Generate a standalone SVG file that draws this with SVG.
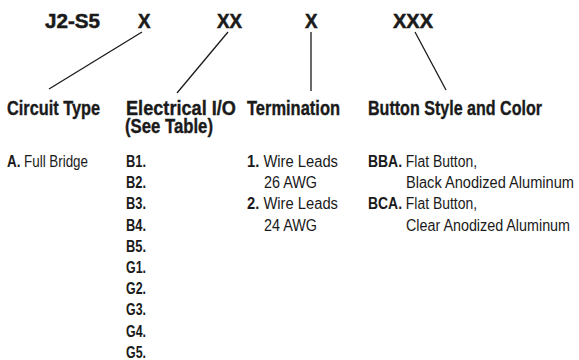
<svg xmlns="http://www.w3.org/2000/svg" width="579" height="360" viewBox="0 0 579 360">
<style>
text{font-family:"Liberation Sans",Arial,sans-serif;fill:#1a1a1a}
.code{font-size:20px;font-weight:bold;stroke:#1a1a1a;stroke-width:0.5}
.hd{font-size:19.5px;font-weight:bold;stroke:#1a1a1a;stroke-width:0.35}
.it{font-size:16px}
.b{font-weight:bold}
.ln{stroke:#1a1a1a;stroke-width:1.3;fill:none}
</style>
<rect width="579" height="360" fill="#fff"/>
<g id="code">
<text class="code" x="45" y="27.5" textLength="55" lengthAdjust="spacingAndGlyphs">J2-S5</text>
<text class="code" x="138" y="27.5" textLength="12.5" lengthAdjust="spacingAndGlyphs">X</text>
<text class="code" x="217" y="27.5" textLength="25" lengthAdjust="spacingAndGlyphs">XX</text>
<text class="code" x="305" y="27.5" textLength="12.5" lengthAdjust="spacingAndGlyphs">X</text>
<text class="code" x="393" y="27.5" textLength="40" lengthAdjust="spacingAndGlyphs">XXX</text>
</g>
<g id="connectors">
<line class="ln" x1="142" y1="32" x2="49" y2="89"/>
<line class="ln" x1="228" y1="32" x2="177" y2="93"/>
<line class="ln" x1="311" y1="32" x2="311" y2="91"/>
<line class="ln" x1="415" y1="32" x2="446" y2="90"/>
</g>
<g id="circuit-type">
<text class="hd" x="7" y="115" textLength="93" lengthAdjust="spacingAndGlyphs">Circuit Type</text>
<text class="it" x="7" y="167" textLength="81" lengthAdjust="spacingAndGlyphs"><tspan class="b">A.</tspan> Full Bridge</text>
</g>
<g id="electrical-io">
<text class="hd" x="126" y="115" textLength="110" lengthAdjust="spacingAndGlyphs">Electrical I/O</text>
<text class="hd" x="125" y="133" textLength="88" lengthAdjust="spacingAndGlyphs">(See Table)</text>
<text class="it b" x="126" y="167" textLength="20" lengthAdjust="spacingAndGlyphs">B1.</text>
<text class="it b" x="126" y="188.2" textLength="20" lengthAdjust="spacingAndGlyphs">B2.</text>
<text class="it b" x="126" y="209.4" textLength="20" lengthAdjust="spacingAndGlyphs">B3.</text>
<text class="it b" x="126" y="230.6" textLength="20" lengthAdjust="spacingAndGlyphs">B4.</text>
<text class="it b" x="126" y="251.8" textLength="20" lengthAdjust="spacingAndGlyphs">B5.</text>
<text class="it b" x="126" y="273" textLength="20" lengthAdjust="spacingAndGlyphs">G1.</text>
<text class="it b" x="126" y="294.2" textLength="20" lengthAdjust="spacingAndGlyphs">G2.</text>
<text class="it b" x="126" y="315.4" textLength="20" lengthAdjust="spacingAndGlyphs">G3.</text>
<text class="it b" x="126" y="336.6" textLength="20" lengthAdjust="spacingAndGlyphs">G4.</text>
<text class="it b" x="126" y="357.5" textLength="20" lengthAdjust="spacingAndGlyphs">G5.</text>
</g>
<g id="termination">
<text class="hd" x="247" y="115" textLength="93" lengthAdjust="spacingAndGlyphs">Termination</text>
<text class="it" x="247" y="167" textLength="91" lengthAdjust="spacingAndGlyphs"><tspan class="b">1.</tspan> Wire Leads</text>
<text class="it" x="264" y="188.2" textLength="53" lengthAdjust="spacingAndGlyphs">26 AWG</text>
<text class="it" x="247" y="209.4" textLength="91" lengthAdjust="spacingAndGlyphs"><tspan class="b">2.</tspan> Wire Leads</text>
<text class="it" x="264" y="230.6" textLength="53" lengthAdjust="spacingAndGlyphs">24 AWG</text>
</g>
<g id="button-style">
<text class="hd" x="368" y="115" textLength="174" lengthAdjust="spacingAndGlyphs">Button Style and Color</text>
<text class="it" x="368" y="167" textLength="109" lengthAdjust="spacingAndGlyphs"><tspan class="b">BBA.</tspan> Flat Button,</text>
<text class="it" x="406" y="188.2" textLength="168" lengthAdjust="spacingAndGlyphs">Black Anodized Aluminum</text>
<text class="it" x="368" y="209.4" textLength="109" lengthAdjust="spacingAndGlyphs"><tspan class="b">BCA.</tspan> Flat Button,</text>
<text class="it" x="406" y="230.6" textLength="164" lengthAdjust="spacingAndGlyphs">Clear Anodized Aluminum</text>
</g>
</svg>
